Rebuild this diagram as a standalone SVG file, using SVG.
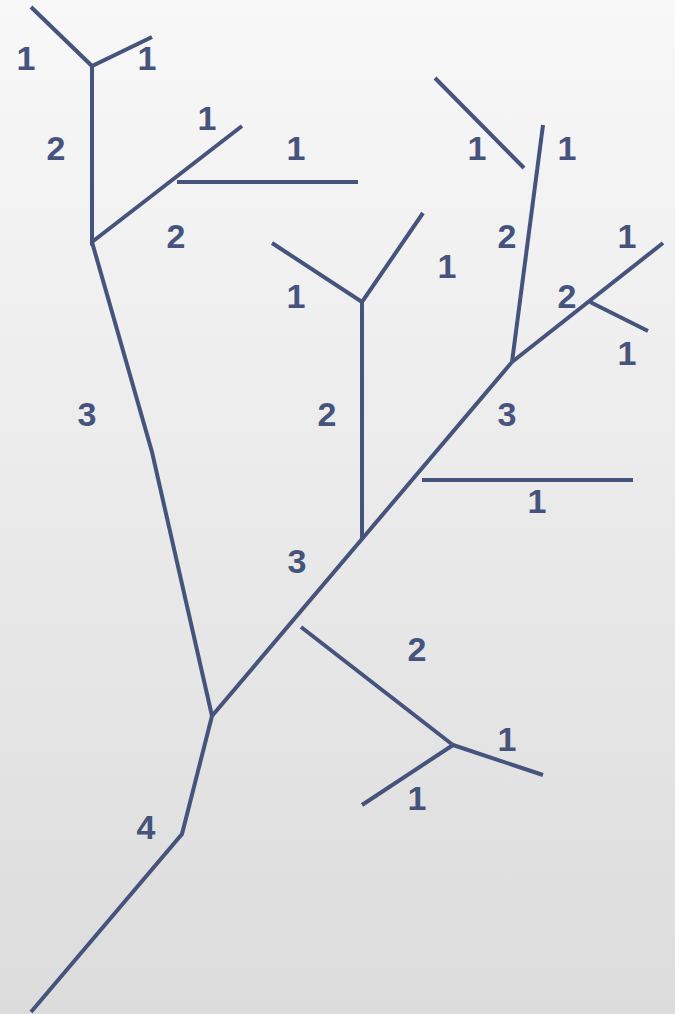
<svg xmlns="http://www.w3.org/2000/svg" width="675" height="1014" viewBox="0 0 675 1014">
<defs>
<linearGradient id="bg" x1="0" y1="0" x2="0" y2="1">
<stop offset="0" stop-color="#f8f8f8"/>
<stop offset="1" stop-color="#dcdcdc"/>
</linearGradient>
<style>
.s{fill:none;stroke:#46537c;stroke-width:4;stroke-linejoin:miter;stroke-linecap:butt}
.t{font-family:"Liberation Sans",Arial,sans-serif;font-weight:bold;font-size:34px;fill:#46537c;text-anchor:middle}
</style>
</defs>
<rect width="675" height="1014" fill="url(#bg)"/>
<g id="connectors">
<polyline class="s" points="31,7 92,66 152,37"/>
<polyline class="s" points="92,66 92,242 242,126"/>
<line class="s" x1="177" y1="182" x2="358" y2="182"/>
<polyline class="s" points="92,242 152,452 212,716"/>
<polyline class="s" points="272,243 362,302 423,213"/>
<line class="s" x1="362" y1="302" x2="362" y2="540"/>
<polyline class="s" points="31,1012 182,834 212,716 512,362"/>
<line class="s" x1="422" y1="480" x2="633" y2="480"/>
<line class="s" x1="512" y1="362" x2="543" y2="125"/>
<line class="s" x1="435" y1="78" x2="524" y2="168"/>
<line class="s" x1="512" y1="362" x2="663" y2="243"/>
<line class="s" x1="590" y1="302" x2="648" y2="331"/>
<polyline class="s" points="301,627 453,745 362,805"/>
<line class="s" x1="453" y1="745" x2="543" y2="775"/>
</g>
<g id="labels">
<text class="t" x="26" y="70">1</text>
<text class="t" x="147" y="70">1</text>
<text class="t" x="56" y="160">2</text>
<text class="t" x="207" y="130">1</text>
<text class="t" x="296" y="160">1</text>
<text class="t" x="176" y="248">2</text>
<text class="t" x="477" y="160">1</text>
<text class="t" x="567" y="160">1</text>
<text class="t" x="296" y="308">1</text>
<text class="t" x="447" y="278">1</text>
<text class="t" x="507" y="248">2</text>
<text class="t" x="627" y="248">1</text>
<text class="t" x="567" y="308">2</text>
<text class="t" x="627" y="365">1</text>
<text class="t" x="87" y="426">3</text>
<text class="t" x="327" y="426">2</text>
<text class="t" x="507" y="426">3</text>
<text class="t" x="537" y="513">1</text>
<text class="t" x="297" y="573">3</text>
<text class="t" x="417" y="661">2</text>
<text class="t" x="507" y="751">1</text>
<text class="t" x="417" y="810">1</text>
<text class="t" x="146" y="839">4</text>
</g>
</svg>
